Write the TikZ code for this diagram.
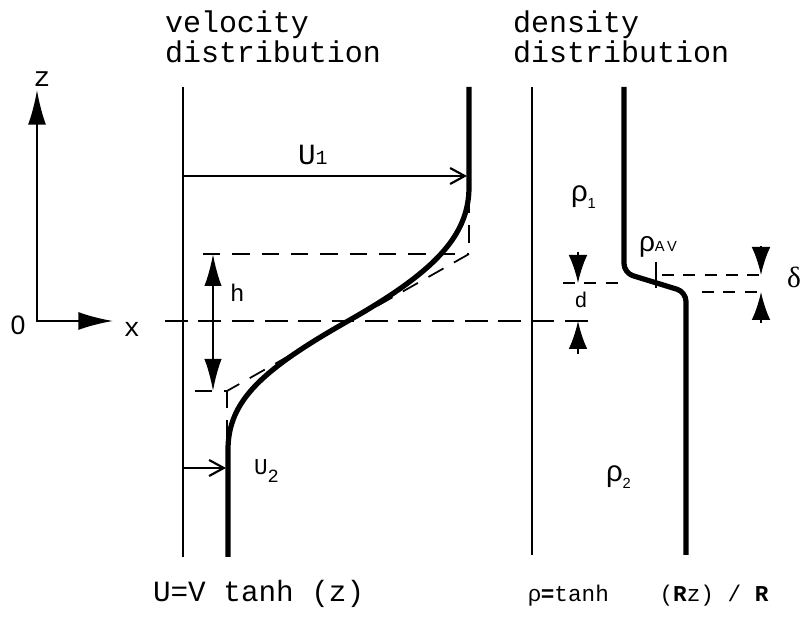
\documentclass[tikz,border=0pt]{standalone}
\usepackage{fontspec}
\setmainfont{Liberation Mono}
\newfontfamily\rhofont{Liberation Sans}
\newfontfamily\greekserif{Liberation Serif}
\usetikzlibrary{arrows.meta}
\begin{document}
\begin{tikzpicture}[x=0.75pt,y=-0.75pt,
  every node/.style={inner sep=0pt, outer sep=0pt},
  frame/.style={line width=1.6pt},
  profile/.style={line width=3.9pt, line join=round},
  vdash/.style={line width=1.3pt, dash pattern=on 13pt off 9pt},
  axisdash/.style={line width=1.6pt, dash pattern=on 17pt off 8pt},
  ddash/.style={line width=1.2pt, dash pattern=on 9pt off 7pt},
  axistip/.style={{Latex[length=26pt,width=13.5pt]}-{Latex[length=26pt,width=13.5pt]}},
  htip/.style={{Latex[length=24pt,width=13pt]}-{Latex[length=24pt,width=13pt]}},
  gaptip/.style={-{Latex[length=21pt,width=14pt]}},
  utip/.style={-{Straight Barb[length=11pt,width=12pt]}},
  title/.style={anchor=base west, font=\fontsize{22.5pt}{27pt}\selectfont},
  formula/.style={anchor=base west, font=\fontsize{22pt}{26pt}\selectfont},
  lbl/.style={anchor=base west}
]
\useasboundingbox (0,0) rectangle (801,623);

% ---------- axes ----------
\coordinate (O) at (37,321);
\coordinate (zt) at (37,90);
\coordinate (xt) at (113,321);
\draw[frame, axistip] (zt) -- (O) -- (xt);
\node[anchor=base, font=\fontsize{21pt}{24pt}\selectfont] (zlab) at (42,87) {z};
\node[anchor=base, font=\rhofont\fontsize{20pt}{24pt}\selectfont] (olab) at (18,335) {0};
\node[anchor=base, font=\fontsize{20pt}{24pt}\selectfont] (xlab) at (132,337) {x};

% ---------- titles ----------
\node[title] (vt1) at (165,33) {velocity};
\node[title] (vt2) at (165,63) {distribution};
\node[title] (dt1) at (513,33) {density};
\node[title] (dt2) at (513,63) {distribution};

% ---------- dashed reference line z=0 ----------
\coordinate (ax1) at (165,321);
\coordinate (ax2) at (590,321);
\draw[axisdash] (ax1) -- (ax2);

% ---------- velocity panel ----------
\coordinate (vL1) at (183,87);
\coordinate (vL2) at (183,557);
\draw[frame] (vL1) -- (vL2);

% construction lines
\coordinate (ht) at (203,254);
\coordinate (tc) at (469,254);
\coordinate (tv) at (469,196);
\coordinate (bc) at (227,391);
\coordinate (bh) at (195,391);
\coordinate (bv) at (227,450);
\draw[vdash] (ht) -- (tc);
\draw[vdash] (tv) -- (tc);
\draw[vdash] (tc) -- (bc);
\draw[vdash] (bh) -- (bc);
\draw[vdash] (bc) -- (bv);

% h
\coordinate (h1) at (213,254);
\coordinate (h2) at (213,391);
\draw[frame, htip] (h1) -- (h2);
\node[lbl, font=\fontsize{18pt}{22pt}\selectfont] (hlab) at (230,302) {h};

% profile
\coordinate (p1) at (469,87);
\coordinate (p2) at (469,187);
\coordinate (pc) at (348,321);
\coordinate (p3) at (228,450);
\coordinate (p4) at (228,557);
\draw[profile] (p1) -- (p2) .. controls (469,236) and (434.5,272) .. (pc)
  .. controls (261.5,370) and (228,401) .. (p3) -- (p4);

% U arrows
\coordinate (u1s) at (183,176);
\coordinate (u1e) at (467,176);
\draw[frame, utip] (u1s) -- (u1e);
\node[lbl, font=\fontsize{22pt}{26pt}\selectfont] (u1lab) at (298,165)
  {U{\fontsize{15pt}{18pt}\selectfont 1}};
\coordinate (u2s) at (183,468);
\coordinate (u2e) at (226,468);
\draw[frame, utip] (u2s) -- (u2e);
\node[lbl, font=\fontsize{17pt}{20pt}\selectfont] (u2lab) at (254,475)
  {U\raisebox{-6pt}{\fontsize{14pt}{16pt}\selectfont 2}};

\node[formula] (vform) at (153,602) {U=V tanh (z)};

% ---------- density panel ----------
\coordinate (dL1) at (532,87);
\coordinate (dL2) at (532,555);
\draw[frame] (dL1) -- (dL2);

\coordinate (q1) at (624,87);
\coordinate (q2) at (624,273);
\coordinate (q3) at (686,292);
\coordinate (q4) at (686,555);
\draw[profile, rounded corners=7pt] (q1) -- (q2) -- (q3) -- (q4);

% average point tick
\coordinate (av1) at (656,262);
\coordinate (av2) at (656,288);
\draw[line width=1pt] (av1) -- (av2);

% dashed levels
\coordinate (dl1) at (563,283);
\coordinate (dl2) at (621,283);
\draw[ddash] (dl1) -- (dl2);
\coordinate (ru1) at (662,275);
\coordinate (ru2) at (762,275);
\draw[ddash] (ru1) -- (ru2);
\coordinate (rl1) at (702,292);
\coordinate (rl2) at (762,292);
\draw[ddash] (rl1) -- (rl2);

% d arrows
\coordinate (da1) at (578,252);
\coordinate (da2) at (578,283);
\coordinate (db1) at (578,354);
\coordinate (db2) at (578,321);
\draw[frame, gaptip] (da1) -- (da2);
\draw[frame, gaptip] (db1) -- (db2);
\node[anchor=base, font=\fontsize{16pt}{18pt}\selectfont] (dlab) at (581,308) {d};

% delta arrows
\coordinate (ea1) at (761,246);
\coordinate (ea2) at (761,275);
\coordinate (eb1) at (761,323);
\coordinate (eb2) at (761,292);
\draw[frame, gaptip] (ea1) -- (ea2);
\draw[frame, gaptip] (eb1) -- (eb2);
\node[anchor=base, font=\greekserif\fontsize{22pt}{26pt}\selectfont] (delab) at (794,288) {δ};

% rho labels
\node[lbl, font=\rhofont\fontsize{22pt}{26pt}\selectfont] (r1lab) at (571,202)
  {ρ\raisebox{-5pt}{\fontsize{11pt}{13pt}\selectfont 1}};
\node[lbl, font=\rhofont\fontsize{22pt}{26pt}\selectfont] (r2lab) at (606,482)
  {ρ\raisebox{-5pt}{\fontsize{11pt}{13pt}\selectfont 2}};
\node[lbl, font=\rhofont\fontsize{21pt}{25pt}\selectfont] (ravlab) at (639,252)
  {ρ{\fontsize{11pt}{13pt}\selectfont A\,V}};

\node[lbl, font=\fontsize{17pt}{20pt}\selectfont] (dform) at (528,602)
  {{\rhofont ρ}\textbf{=}tanh\hspace{38pt}(\textbf{R}z) / \textbf{R}};
\end{tikzpicture}
\end{document}
